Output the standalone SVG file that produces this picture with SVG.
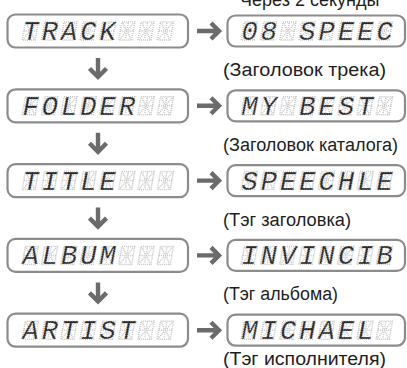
<svg xmlns="http://www.w3.org/2000/svg" width="407" height="368" viewBox="0 0 407 368">
<style>
.box{fill:#fff;stroke:#8c8c8c;stroke-width:2.2}
.arr{fill:none;stroke:#6b6b6b;stroke-width:4.4;stroke-linejoin:miter;stroke-linecap:butt}
.cap{font-family:"Liberation Sans",Arial,sans-serif;font-size:18px;fill:#1e1e1e}
.lcd{font-family:"Liberation Mono","Courier New",monospace;font-style:italic;font-size:27px;fill:#2b2b2b;stroke:#fff;stroke-width:0.5;stroke-dasharray:1.2 1.2;text-anchor:middle}
.gh{fill:none;stroke:#c9c9c9;stroke-width:1.5;stroke-dasharray:1.1 0.9}
</style>
<defs>
<path id="cell" class="gh" d="M1,-19 H14 V-1 H1 Z M1,-10 H14 M7.5,-18 V-2 M2.5,-17.5 L6.5,-11 M12.5,-17.5 L8.5,-11 M2.5,-2.5 L6.5,-9 M12.5,-2.5 L8.5,-9"/>
<g id="ghostL">
<use href="#cell" transform="translate(21,10) skewX(-10)"/>
<use href="#cell" transform="translate(40.3,10) skewX(-10)"/>
<use href="#cell" transform="translate(59.6,10) skewX(-10)"/>
<use href="#cell" transform="translate(78.9,10) skewX(-10)"/>
<use href="#cell" transform="translate(98.2,10) skewX(-10)"/>
<use href="#cell" transform="translate(117.5,10) skewX(-10)"/>
<use href="#cell" transform="translate(136.8,10) skewX(-10)"/>
<use href="#cell" transform="translate(156.1,10) skewX(-10)"/>
</g>
<g id="ghostR">
<use href="#ghostL" x="219"/>
</g>
</defs>

<g id="connectors">
<path class="arr" d="M98,58 V77 M89.5,68.5 L98,77 L106.5,68.5"/>
<path class="arr" d="M98,132.8 V151.8 M89.5,143.3 L98,151.8 L106.5,143.3"/>
<path class="arr" d="M98,207.6 V226.6 M89.5,218.1 L98,226.6 L106.5,218.1"/>
<path class="arr" d="M98,282.4 V301.4 M89.5,292.9 L98,301.4 L106.5,292.9"/>
<path class="arr" d="M197,31 H219 M211,23 L219,31 L211,39"/>
<path class="arr" d="M197,105.8 H219 M211,97.8 L219,105.8 L211,113.8"/>
<path class="arr" d="M197,180.6 H219 M211,172.6 L219,180.6 L211,188.6"/>
<path class="arr" d="M197,255.4 H219 M211,247.4 L219,255.4 L211,263.4"/>
<path class="arr" d="M197,330.2 H219 M211,322.2 L219,330.2 L211,338.2"/>
</g>

<g id="track">
<rect class="box" x="7.5" y="14.5" width="180.5" height="33" rx="8"/>
<use href="#ghostL" y="31"/>
<text class="lcd" x="30.5 49.8 69.1 88.4 107.7" y="40">TRACK</text>
</g>
<g id="track-name">
<text class="cap" x="240" y="6">Через 2 секунды</text>
<rect class="box" x="227.5" y="15.5" width="177.5" height="31" rx="8"/>
<use href="#ghostR" y="31"/>
<text class="lcd" x="249.5 268.8 288.1 307.4 326.7 346 365.3 384.6" y="40">08 SPEEC</text>
</g>

<g id="folder">
<rect class="box" x="7.5" y="89.3" width="180.5" height="33" rx="8"/>
<use href="#ghostL" y="105.8"/>
<text class="lcd" x="30.5 49.8 69.1 88.4 107.7 127" y="114.8">FOLDER</text>
</g>
<g id="folder-name">
<text class="cap" x="223" y="76" textLength="163" lengthAdjust="spacingAndGlyphs">(Заголовок трека)</text>
<rect class="box" x="227.5" y="90.3" width="177.5" height="31" rx="8"/>
<use href="#ghostR" y="105.8"/>
<text class="lcd" x="249.5 268.8 288.1 307.4 326.7 346 365.3 384.6" y="114.8">MY BEST</text>
</g>

<g id="title">
<rect class="box" x="7.5" y="164.1" width="180.5" height="33" rx="8"/>
<use href="#ghostL" y="180.6"/>
<text class="lcd" x="30.5 49.8 69.1 88.4 107.7" y="189.6">TITLE</text>
</g>
<g id="title-name">
<text class="cap" x="223" y="150.8" textLength="175" lengthAdjust="spacingAndGlyphs">(Заголовок каталога)</text>
<rect class="box" x="227.5" y="165.1" width="177.5" height="31" rx="8"/>
<use href="#ghostR" y="180.6"/>
<text class="lcd" x="249.5 268.8 288.1 307.4 326.7 346 365.3 384.6" y="189.6">SPEECHLE</text>
</g>

<g id="album">
<rect class="box" x="7.5" y="238.9" width="180.5" height="33" rx="8"/>
<use href="#ghostL" y="255.4"/>
<text class="lcd" x="30.5 49.8 69.1 88.4 107.7" y="264.4">ALBUM</text>
</g>
<g id="album-name">
<text class="cap" x="223" y="225.6" textLength="128" lengthAdjust="spacingAndGlyphs">(Тэг заголовка)</text>
<rect class="box" x="227.5" y="239.9" width="177.5" height="31" rx="8"/>
<use href="#ghostR" y="255.4"/>
<text class="lcd" x="249.5 268.8 288.1 307.4 326.7 346 365.3 384.6" y="264.4">INVINCIB</text>
</g>

<g id="artist">
<rect class="box" x="7.5" y="313.7" width="180.5" height="33" rx="8"/>
<use href="#ghostL" y="330.2"/>
<text class="lcd" x="30.5 49.8 69.1 88.4 107.7 127" y="339.2">ARTIST</text>
</g>
<g id="artist-name">
<text class="cap" x="223" y="300.4" textLength="115" lengthAdjust="spacingAndGlyphs">(Тэг альбома)</text>
<rect class="box" x="227.5" y="314.7" width="177.5" height="31" rx="8"/>
<use href="#ghostR" y="330.2"/>
<text class="lcd" x="249.5 268.8 288.1 307.4 326.7 346 365.3" y="339.2">MICHAEL</text>
<text class="cap" x="223" y="364.5" textLength="163" lengthAdjust="spacingAndGlyphs">(Тэг исполнителя)</text>
</g>
</svg>
